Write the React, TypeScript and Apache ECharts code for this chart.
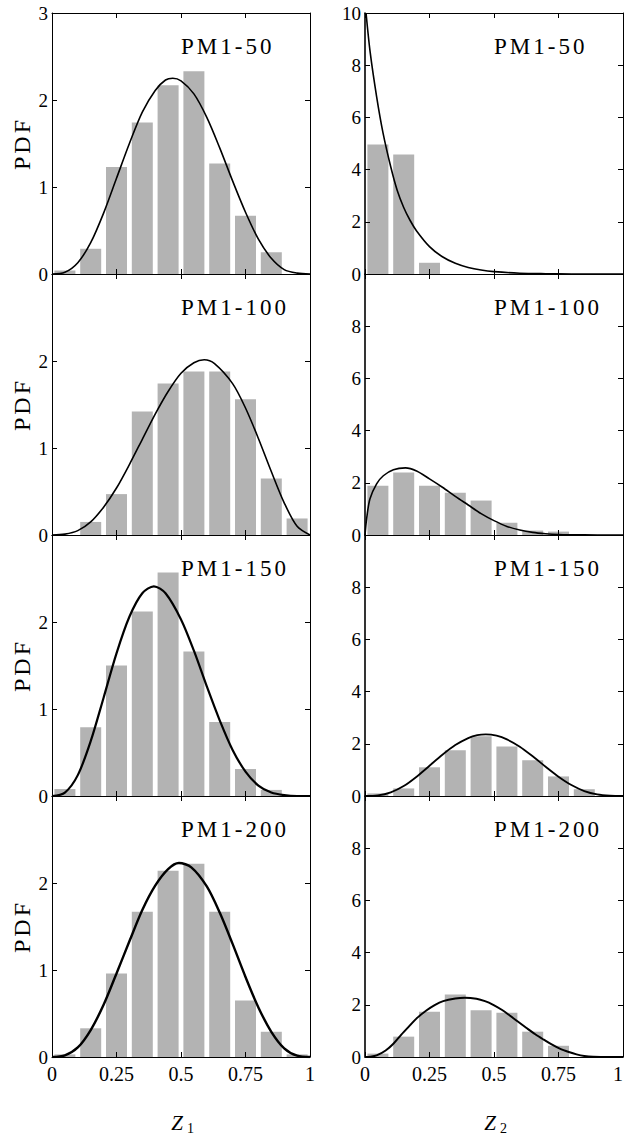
import React, { useEffect, useRef } from "react";
import * as echarts from "echarts";

// ---------- data ----------
const binCenters = [0.05, 0.15, 0.25, 0.35, 0.45, 0.55, 0.65, 0.75, 0.85, 0.95];
const panelLabels = ["PM1-50", "PM1-100", "PM1-150", "PM1-200"];

// histogram heights (PDF) for Z1 (left column)
const z1Bars50 = [0.04, 0.29, 1.23, 1.74, 2.17, 2.33, 1.27, 0.67, 0.25, 0];
const z1Bars100 = [0, 0.15, 0.47, 1.42, 1.74, 1.88, 1.88, 1.56, 0.65, 0.19];
const z1Bars150 = [0.08, 0.79, 1.5, 2.12, 2.57, 1.66, 0.85, 0.31, 0.07, 0];
const z1Bars200 = [0.03, 0.33, 0.96, 1.67, 2.14, 2.22, 1.67, 0.65, 0.29, 0.03];

// histogram heights (PDF) for Z2 (right column)
const z2Bars50 = [4.96, 4.58, 0.43, 0, 0, 0, 0, 0, 0, 0];
const z2Bars100 = [1.89, 2.39, 1.89, 1.62, 1.32, 0.47, 0.17, 0.13, 0, 0];
const z2Bars150 = [0.1, 0.29, 1.1, 1.75, 2.29, 1.9, 1.37, 0.75, 0.26, 0];
const z2Bars200 = [0.13, 0.78, 1.73, 2.39, 1.79, 1.7, 0.97, 0.43, 0, 0];

// fitted PDF curves: [z, pdf]
const z1Curve50 = [
  [0, 0], [0.05, 0.02], [0.1, 0.13], [0.15, 0.36], [0.2, 0.7], [0.25, 1.1], [0.3, 1.5],
  [0.35, 1.86], [0.4, 2.11], [0.44, 2.23], [0.468, 2.25], [0.5, 2.22], [0.55, 2.07],
  [0.6, 1.8], [0.65, 1.45], [0.7, 1.07], [0.75, 0.71], [0.8, 0.4], [0.85, 0.18],
  [0.9, 0.05], [0.95, 0.01], [1, 0],
];
const z1Curve100 = [
  [0, 0], [0.05, 0.01], [0.1, 0.05], [0.15, 0.15], [0.2, 0.32], [0.25, 0.54], [0.3, 0.81],
  [0.35, 1.1], [0.4, 1.39], [0.45, 1.65], [0.5, 1.86], [0.55, 1.98], [0.59, 2.015],
  [0.63, 1.97], [0.7, 1.74], [0.75, 1.46], [0.8, 1.11], [0.85, 0.73], [0.9, 0.37],
  [0.95, 0.1], [1, 0],
];
const z1Curve150 = [
  [0, 0], [0.05, 0.04], [0.1, 0.24], [0.15, 0.63], [0.2, 1.13], [0.25, 1.64], [0.3, 2.06],
  [0.35, 2.33], [0.395, 2.41], [0.44, 2.33], [0.5, 2.03], [0.55, 1.67], [0.6, 1.26],
  [0.65, 0.87], [0.7, 0.53], [0.75, 0.28], [0.8, 0.12], [0.85, 0.04], [0.9, 0.01],
  [0.95, 0], [1, 0],
];
const z1Curve200 = [
  [0, 0], [0.05, 0.02], [0.1, 0.11], [0.15, 0.31], [0.2, 0.6], [0.25, 0.96], [0.3, 1.33],
  [0.35, 1.69], [0.4, 1.97], [0.45, 2.16], [0.492, 2.23], [0.54, 2.18], [0.6, 1.96],
  [0.65, 1.66], [0.7, 1.3], [0.75, 0.92], [0.8, 0.57], [0.85, 0.29], [0.9, 0.1],
  [0.95, 0.015], [1, 0],
];
const z2Curve50 = [
  [0.004, 10], [0.02, 8.5], [0.045, 6.8], [0.07, 5.4], [0.1, 4.1], [0.125, 3.2],
  [0.15, 2.55], [0.175, 2.05], [0.2, 1.65], [0.25, 1.05], [0.3, 0.66], [0.35, 0.41],
  [0.4, 0.25], [0.45, 0.15], [0.5, 0.09], [0.6, 0.03], [0.7, 0.01], [0.8, 0], [1, 0],
];
const z2Curve100 = [
  [0, 0], [0.006, 0.6], [0.019, 1.38], [0.045, 1.96], [0.071, 2.27], [0.11, 2.5],
  [0.157, 2.57], [0.2, 2.45], [0.25, 2.15], [0.3, 1.83], [0.35, 1.48], [0.4, 1.15],
  [0.45, 0.82], [0.5, 0.55], [0.55, 0.33], [0.6, 0.19], [0.65, 0.1], [0.7, 0.05],
  [0.75, 0.02], [0.8, 0.01], [0.9, 0], [1, 0],
];
const z2Curve150 = [
  [0, 0], [0.05, 0.02], [0.1, 0.14], [0.15, 0.38], [0.2, 0.74], [0.25, 1.16], [0.3, 1.58],
  [0.35, 1.95], [0.4, 2.22], [0.435, 2.33], [0.468, 2.36], [0.51, 2.31], [0.55, 2.17],
  [0.6, 1.89], [0.65, 1.52], [0.7, 1.12], [0.75, 0.74], [0.8, 0.42], [0.85, 0.19],
  [0.9, 0.06], [0.95, 0.01], [1, 0],
];
const z2Curve200 = [
  [0, 0], [0.02, 0.01], [0.045, 0.06], [0.08, 0.25], [0.11, 0.51], [0.14, 0.85],
  [0.174, 1.21], [0.2, 1.48], [0.239, 1.79], [0.27, 1.99], [0.303, 2.14], [0.35, 2.24],
  [0.387, 2.27], [0.432, 2.23], [0.465, 2.14], [0.497, 2.0], [0.53, 1.81], [0.561, 1.59],
  [0.6, 1.3], [0.626, 1.11], [0.66, 0.87], [0.69, 0.68], [0.72, 0.5], [0.755, 0.32],
  [0.79, 0.19], [0.82, 0.1], [0.85, 0.04], [0.884, 0.01], [0.95, 0], [1, 0],
];

const xTickInterval = 0.25;
const leftYMax = 3;
const leftYInterval = 1;
const rightYMax = 10;
const rightYInterval = 2;
const axisTitles = ["1", "2"];

// ---------- layout / style ----------
const FONT = "'Liberation Serif', 'Times New Roman', serif";
const GRID_LEFT = [52, 365];
const GRID_W = 258;
const GRID_TOP0 = 13;
const GRID_H = 261;

const panels = [
  { row: 0, col: 0, bars: z1Bars50, curve: z1Curve50, lw: 1.6 },
  { row: 0, col: 1, bars: z2Bars50, curve: z2Curve50, lw: 1.6 },
  { row: 1, col: 0, bars: z1Bars100, curve: z1Curve100, lw: 1.6 },
  { row: 1, col: 1, bars: z2Bars100, curve: z2Curve100, lw: 1.6 },
  { row: 2, col: 0, bars: z1Bars150, curve: z1Curve150, lw: 2.2 },
  { row: 2, col: 1, bars: z2Bars150, curve: z2Curve150, lw: 1.8 },
  { row: 3, col: 0, bars: z1Bars200, curve: z1Curve200, lw: 2.4 },
  { row: 3, col: 1, bars: z2Bars200, curve: z2Curve200, lw: 2.0 },
];

function buildOption() {
  const grid: any[] = [];
  const xAxis: any[] = [];
  const yAxis: any[] = [];
  const series: any[] = [];
  const graphic: any[] = [];

  panels.forEach((p, i) => {
    const left = GRID_LEFT[p.col];
    const top = GRID_TOP0 + GRID_H * p.row;
    grid.push({ left, top, width: GRID_W, height: GRID_H, containLabel: false, outerBoundsMode: "none" });

    const tick = { show: true, inside: true, length: 5, lineStyle: { color: "#000", width: 1 } };
    const isBottom = p.row === 3;
    const yMax = p.col === 0 ? leftYMax : rightYMax;
    const yInt = p.col === 0 ? leftYInterval : rightYInterval;

    ["bottom", "top"].forEach((pos) => {
      xAxis.push({
        type: "value",
        gridIndex: i,
        position: pos,
        min: 0,
        max: 1,
        interval: xTickInterval,
        z: 10,
        axisLine: { show: true, onZero: false, lineStyle: { color: "#000", width: 1 } },
        axisTick: tick,
        splitLine: { show: false },
        axisLabel: {
          show: pos === "bottom" && isBottom,
          fontSize: 20,
          fontFamily: FONT,
          color: "#000",
          margin: 7,
          alignMaxLabel: p.col === 1 ? "right" : undefined,
        },
      });
    });
    ["left", "right"].forEach((pos) => {
      yAxis.push({
        type: "value",
        gridIndex: i,
        position: pos,
        min: 0,
        max: yMax,
        interval: yInt,
        z: 10,
        axisLine: {
          show: true,
          onZero: false,
          lineStyle: { color: "#000", width: pos === "left" && p.col === 1 ? 1.6 : 1 },
        },
        axisTick: tick,
        splitLine: { show: false },
        axisLabel: {
          show: pos === "left",
          showMaxLabel: p.row === 0,
          fontSize: 19,
          fontFamily: FONT,
          color: "#000",
          margin: 4,
        },
      });
    });

    series.push({
      type: "bar",
      xAxisIndex: 2 * i,
      yAxisIndex: 2 * i,
      data: binCenters.map((x, k) => [x, p.bars[k]]),
      barWidth: 21,
      itemStyle: { color: "#b3b3b3" },
      silent: true,
      z: 2,
    });
    series.push({
      type: "line",
      xAxisIndex: 2 * i,
      yAxisIndex: 2 * i,
      data: p.curve,
      symbol: "none",
      showSymbol: false,
      smooth: 0.3,
      clip: true,
      lineStyle: { color: "#000", width: p.lw },
      silent: true,
      z: 3,
    });

    graphic.push({
      type: "text",
      x: left + GRID_W / 2,
      y: top + 33.5,
      silent: true,
      style: {
        text: panelLabels[p.row],
        fontSize: 23,
        fontFamily: FONT,
        fill: "#000",
        textAlign: "left",
        verticalAlign: "middle",
      },
    });
    if (p.col === 0) {
      graphic.push({
        type: "text",
        x: 22,
        y: top + GRID_H / 2,
        rotation: Math.PI / 2,
        silent: true,
        style: {
          text: "PDF",
          fontSize: 24,
          fontFamily: FONT,
          fill: "#000",
          textAlign: "center",
          verticalAlign: "middle",
        },
      });
    }
  });

  // axis titles Z1, Z2
  const zCenters = [177, 490];
  zCenters.forEach((cx, c) => {
    graphic.push({
      type: "text",
      x: cx,
      y: 1122.5,
      silent: true,
      style: {
        text: "Z",
        fontSize: 21,
        fontStyle: "italic",
        fontFamily: FONT,
        fill: "#000",
        textAlign: "center",
        verticalAlign: "middle",
      },
    });
    graphic.push({
      type: "text",
      x: cx + 10,
      y: 1128,
      silent: true,
      style: {
        text: axisTitles[c],
        fontSize: 14,
        fontFamily: FONT,
        fill: "#000",
        textAlign: "left",
        verticalAlign: "middle",
      },
    });
  });

  return { animation: false, backgroundColor: "#fff", grid, xAxis, yAxis, series, graphic };
}

export default function App() {
  const ref = useRef<HTMLDivElement | null>(null);
  useEffect(() => {
    document.body.style.margin = "0";
    if (!ref.current) return;
    const chart = echarts.init(ref.current, undefined, { renderer: "svg" });
    chart.setOption(buildOption());
    return () => chart.dispose();
  }, []);
  return (
    <>
      <style>{`#root svg text[style*="23px"], #root svg text[style*="24px"] { letter-spacing: 3px; }`}</style>
      <div ref={ref} style={{ width: 624, height: 1137 }} />
    </>
  );
}
